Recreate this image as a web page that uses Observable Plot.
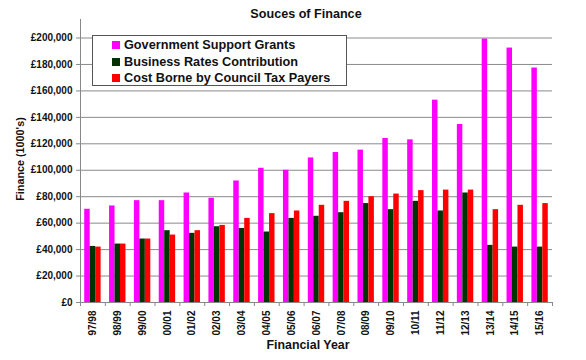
<!DOCTYPE html>
<html><head><meta charset="utf-8">
<script src="https://cdn.jsdelivr.net/npm/d3@7"></script>
<script src="https://cdn.jsdelivr.net/npm/@observablehq/plot@0.6"></script>
<style>
body{margin:0;background:#fff;}
#wrap{position:relative;width:586px;height:360px;font-family:"Liberation Sans",Arial,sans-serif;background:#fff;}
#wrap svg{position:absolute;left:0;top:0;}
#wrap svg text{fill:#111 !important;}
.ov{position:absolute;font-weight:bold;color:#111;white-space:nowrap;line-height:1;}
#legend{position:absolute;left:92px;top:35px;width:253px;height:49px;border:1px solid #555;background:#fff;}
#legend .row{position:absolute;left:19px;height:14px;display:flex;align-items:center;font-weight:bold;font-size:12.7px;color:#111;white-space:nowrap;}
#legend .sw{width:8px;height:8px;margin-right:4px;display:inline-block;}
</style></head><body>
<div id="wrap"></div>
<script>
const years = ["97/98","98/99","99/00","00/01","01/02","02/03","03/04","04/05","05/06","06/07","07/08","08/09","09/10","10/11","11/12","12/13","13/14","14/15","15/16"];
const grants = [70500,73000,77000,77000,82800,78800,91900,101500,100000,109300,113400,115200,124000,123000,153000,134600,199200,192400,177300];
const business = [42400,44200,48000,54300,52300,57300,56000,53300,63600,65200,67900,74800,70200,76500,69200,82800,43200,41900,41900];
const council = [41900,44200,48000,51000,54300,58300,63600,67200,69200,73500,76500,80000,82000,84600,85000,85000,70200,73500,74800];
const seriesNames = ["Government Support Grants","Business Rates Contribution","Cost Borne by Council Tax Payers"];
const seriesColors = ["#ff00ff","#003300","#ff0000"];
const yTicks = [0,20000,40000,60000,80000,100000,120000,140000,160000,180000,200000];

const W=586,H=360,mL=80,mR=34,mT=19,mB=58;
const step=(W-mL-mR)/years.length;
const bw=step*0.22, g0=(step-3*bw)/2;
const seriesValues=[grants,business,council];

const marks=[
  Plot.ruleY(yTicks.filter(d=>d>0), {stroke:"#8a8a8a", strokeWidth:1}),
  ...seriesValues.map((vals,k)=>Plot.barY(years.map((y,i)=>({year:y,v:vals[i]})), {
    x:"year", y:"v", fill:seriesColors[k],
    insetLeft:g0+k*bw, insetRight:step-g0-(k+1)*bw
  })),
  Plot.ruleX(years, {x:d=>d, y1:0, y2:0, insetBottom:-4, dx:-step/2, stroke:"#888"}),
  Plot.ruleX([years[years.length-1]], {x:d=>d, y1:0, y2:0, insetBottom:-4, dx:step/2, stroke:"#888"})
];

const chart = Plot.plot({
  width:W, height:H, marginLeft:mL, marginRight:mR, marginTop:mT, marginBottom:mB,
  x:{domain:years, padding:0, round:false, tickSize:0, tickPadding:8, tickRotate:-90, label:null, line:true},
  y:{domain:[0,214000], ticks:yTicks, tickFormat:d=>"£"+d3.format(",")(d), tickSize:4, tickPadding:4, label:null, line:true},
  style:{fontFamily:"'Liberation Sans',Arial,sans-serif", fontSize:"10px", fontWeight:"bold", color:"#888", background:"white"},
  marks
});
const wrap=document.getElementById("wrap");
wrap.appendChild(chart);

function ov(text, css){const d=document.createElement("div");d.className="ov";d.textContent=text;Object.assign(d.style,css);wrap.appendChild(d);return d;}
ov("Souces of Finance",{left:"306px",top:"14px",fontSize:"12.6px",transform:"translate(-50%,-50%)"});
ov("Financial Year",{left:"308px",top:"345px",fontSize:"12.4px",transform:"translate(-50%,-50%)"});
ov("Finance (1000's)",{left:"20px",top:"159px",fontSize:"10.8px",transform:"translate(-50%,-50%) rotate(-90deg)"});

const lg=document.createElement("div");lg.id="legend";wrap.appendChild(lg);
seriesNames.forEach((n,k)=>{
  const r=document.createElement("div");r.className="row";r.style.top=(2+k*16.5)+"px";
  const s=document.createElement("span");s.className="sw";s.style.background=seriesColors[k];
  r.appendChild(s);r.appendChild(document.createTextNode(n));lg.appendChild(r);
});
</script>
</body></html>
